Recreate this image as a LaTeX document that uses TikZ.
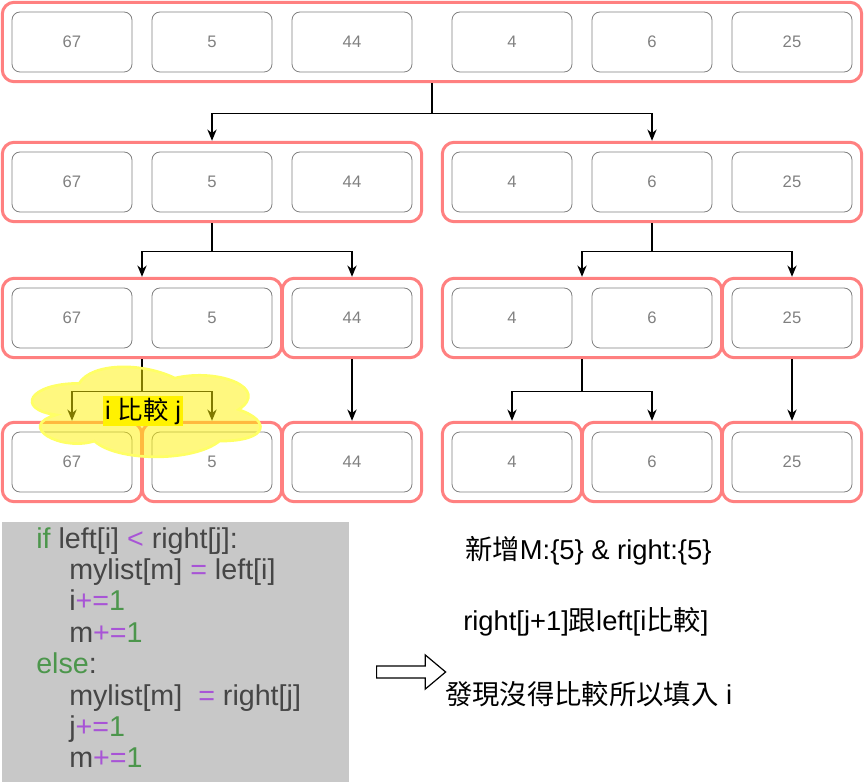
\documentclass[tikz,border=0pt]{standalone}
\usepackage{fontspec}
\setmainfont{Liberation Sans}
\newfontfamily\cjk{Noto Sans CJK TC}
\usetikzlibrary{arrows.meta,fit,shapes.arrows}

\definecolor{grpred}{RGB}{255,128,128}
\definecolor{cellgray}{RGB}{128,128,128}
\definecolor{codebg}{RGB}{200,200,200}
\definecolor{codetxt}{RGB}{70,70,70}
\definecolor{kwgreen}{RGB}{76,150,76}
\definecolor{oppurple}{RGB}{168,84,214}
\definecolor{cloudline}{RGB}{255,255,102}

\newcommand{\codekw}[1]{\textcolor{kwgreen}{#1}}
\newcommand{\codeop}[1]{\textcolor{oppurple}{#1}}

\tikzset{
  cell/.style={draw=cellgray, line width=0.6pt, rounded corners=6pt, minimum width=90pt, minimum height=45pt, text=cellgray, font=\fontsize{12.5}{14}\selectfont},
  grp/.style={draw=grpred, line width=2.25pt, rounded corners=9pt, inner sep=7pt},
  arr/.style={-{Stealth[length=8.5pt,width=7pt]}, line width=1pt},
  codeline/.style={anchor=base west, inner sep=0pt, text=codetxt, font=\fontsize{21.5}{25}\selectfont},
  note/.style={anchor=base west, inner sep=0pt, font=\fontsize{20.5}{24}\selectfont},
}

\begin{document}
\begin{tikzpicture}[x=0.75pt,y=0.75pt,yscale=-1,xscale=1]
\useasboundingbox (0,0) rectangle (864,784);

%Row 1
\node[cell] (a1) at (72,42) {67};
\node[cell] (a2) at (212,42) {5};
\node[cell] (a3) at (352,42) {44};
\node[cell] (a4) at (512,42) {4};
\node[cell] (a5) at (652,42) {6};
\node[cell] (a6) at (792,42) {25};
\node[grp, fit=(a1)(a6)] (ga) {};

%Row 2
\node[cell] (b1) at (72,182) {67};
\node[cell] (b2) at (212,182) {5};
\node[cell] (b3) at (352,182) {44};
\node[cell] (b4) at (512,182) {4};
\node[cell] (b5) at (652,182) {6};
\node[cell] (b6) at (792,182) {25};
\node[grp, fit=(b1)(b3)] (gb1) {};
\node[grp, fit=(b4)(b6)] (gb2) {};

%Row 3
\node[cell] (c1) at (72,318) {67};
\node[cell] (c2) at (212,318) {5};
\node[cell] (c3) at (352,318) {44};
\node[cell] (c4) at (512,318) {4};
\node[cell] (c5) at (652,318) {6};
\node[cell] (c6) at (792,318) {25};
\node[grp, fit=(c1)(c2)] (gc1) {};
\node[grp, fit=(c3)] (gc2) {};
\node[grp, fit=(c4)(c5)] (gc3) {};
\node[grp, fit=(c6)] (gc4) {};

%Row 4
\node[cell] (d1) at (72,462) {67};
\node[cell] (d2) at (212,462) {5};
\node[cell] (d3) at (352,462) {44};
\node[cell] (d4) at (512,462) {4};
\node[cell] (d5) at (652,462) {6};
\node[cell] (d6) at (792,462) {25};
\node[grp, fit=(d1)] (gd1) {};
\node[grp, fit=(d2)] (gd2) {};
\node[grp, fit=(d3)] (gd3) {};
\node[grp, fit=(d4)] (gd4) {};
\node[grp, fit=(d5)] (gd5) {};
\node[grp, fit=(d6)] (gd6) {};

%Split arrows
\draw[arr] (ga.south) -- ++(0,30) -| (gb1.north);
\draw[arr] (ga.south) -- ++(0,30) -| (gb2.north);
\draw[arr] (gb1.south) -- ++(0,28) -| (gc1.north);
\draw[arr] (gb1.south) -- ++(0,28) -| (gc2.north);
\draw[arr] (gb2.south) -- ++(0,28) -| (gc3.north);
\draw[arr] (gb2.south) -- ++(0,28) -| (gc4.north);
\draw[arr] (gc1.south) -- ++(0,32) -| (gd1.north);
\draw[arr] (gc1.south) -- ++(0,32) -| (gd2.north);
\draw[arr] (gc2.south) -- (gd3.north);
\draw[arr] (gc3.south) -- ++(0,32) -| (gd4.north);
\draw[arr] (gc3.south) -- ++(0,32) -| (gd5.north);
\draw[arr] (gc4.south) -- (gd6.north);

%Shape: Cloud
\begin{scope}[shift={(15.4,357.1)}, xscale=255, yscale=105]
\draw[draw=cloudline, line width=2pt, fill=yellow, fill opacity=0.5] (0.25,0.25) .. controls (0.05,0.25) and (0,0.5) .. (0.16,0.55) .. controls (0,0.66) and (0.18,0.9) .. (0.31,0.8) .. controls (0.4,1) and (0.7,1) .. (0.8,0.8) .. controls (1,0.8) and (1,0.6) .. (0.875,0.5) .. controls (1,0.3) and (0.8,0.1) .. (0.625,0.2) .. controls (0.5,0.05) and (0.3,0.05) .. (0.25,0.25) -- cycle;
\end{scope}
% Text Node
\node[fill=yellow, inner sep=1.5pt, font=\fontsize{19}{21}\selectfont] (cmplbl) at (143,411) {i {\cjk 比較} j};

%Shape: Rectangle
\fill[codebg] (2,522) rectangle (349,782);
% Text Node
\node[codeline] (l1) at (36,548) {\codekw{if} left[i] \codeop{<} right[j]:};
\node[codeline] (l2) at (69,579.4) {mylist[m] \codeop{=} left[i]};
\node[codeline] (l3) at (69,610.8) {i\codeop{+=}\codekw{1}};
\node[codeline] (l4) at (69,642.2) {m\codeop{+=}\codekw{1}};
\node[codeline] (l5) at (36,673.6) {\codekw{else}:};
\node[codeline] (l6) at (69,705) {mylist[m]~ \codeop{=} right[j]};
\node[codeline] (l7) at (69,736.4) {j\codeop{+=}\codekw{1}};
\node[codeline] (l8) at (69,767.8) {m\codeop{+=}\codekw{1}};

%Shape: Hollow Arrow
\node[single arrow, draw, line width=0.9pt, fill=white, inner sep=4.1pt, minimum height=51.75pt, single arrow head extend=8.25pt, single arrow tip angle=80] (hollow) at (407.5,672) {};

% Text Node
\node[note] (n1) at (465,559) {{\cjk 新增}M:\{5\} \& right:\{5\}};
\node[note] (n2) at (463,630) {right[j+1]{\cjk 跟}left[i{\cjk 比較}]};
\node[note] (n3) at (445,704) {{\cjk 發現沒得比較所以填入} i};

\end{tikzpicture}
\end{document}
